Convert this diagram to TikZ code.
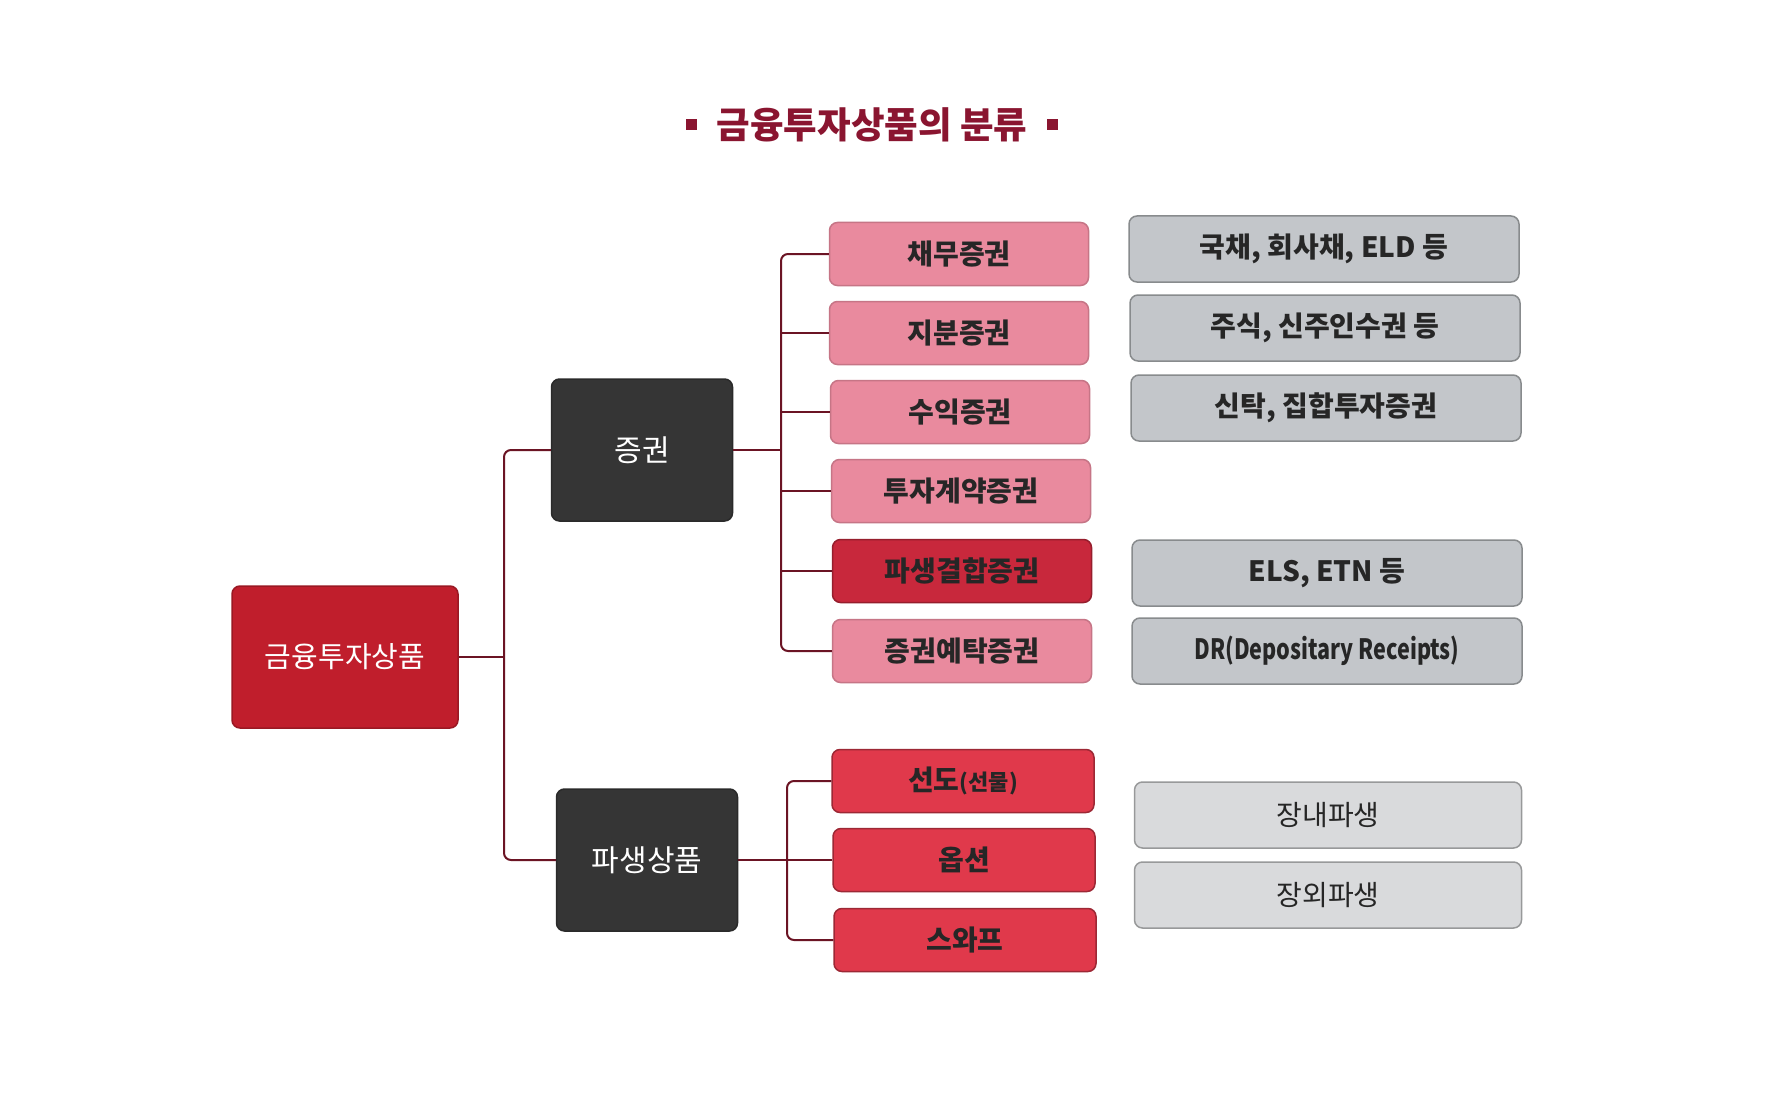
\documentclass[tikz,border=0pt]{standalone}
\usepackage{fontspec}
\setmainfont{Noto Sans CJK KR}
\newfontfamily\narrowfont{Noto Sans CJK KR}[FakeStretch=0.77]
\usetikzlibrary{positioning}

\definecolor{titlered}{HTML}{8A1530}
\definecolor{rootred}{HTML}{C01E2C}
\definecolor{darkbox}{HTML}{353535}
\definecolor{pinkbox}{HTML}{E98A9E}
\definecolor{deepred}{HTML}{C8283C}
\definecolor{optred}{HTML}{E0394B}
\definecolor{greybox}{HTML}{C3C6CA}
\definecolor{lightgrey}{HTML}{D9DADC}
\definecolor{linkred}{HTML}{6B1424}

\begin{document}
\begin{tikzpicture}[x=1pt, y=-1pt,
  box/.style={rectangle, rounded corners=8pt, line width=1.5pt, align=center, inner sep=0pt},
  big/.style={box, minimum width=181pt, minimum height=142pt, fill=darkbox, draw=darkbox!80!black, text=white, font=\fontsize{30}{33}\selectfont},
  sub/.style={box, minimum width=259pt, minimum height=63pt, fill=pinkbox, draw=pinkbox!85!black, text=black!85, font=\fontsize{28}{30}\selectfont\bfseries},
  ex/.style={box, minimum width=390pt, minimum height=66pt, fill=greybox, draw=greybox!70!black, text=black!85, font=\fontsize{28}{30}\selectfont\bfseries},
  link/.style={draw=linkred, line width=2pt, rounded corners=7pt}]
  \useasboundingbox[fill=white] (0,0) rectangle (1775,1102);

  % title
  \node[text=titlered, font=\fontsize{36.5}{40}\selectfont\bfseries] (title) at (872,125) {금융투자상품의 분류};
  \node[fill=titlered, minimum size=11pt, inner sep=0pt, left=16pt of title] (sqL) {};
  \node[fill=titlered, minimum size=11pt, inner sep=0pt, right=16pt of title] (sqR) {};

  % tree
  \node[big, fill=rootred, draw=rootred!80!black, minimum width=226pt, font=\fontsize{29}{33}\selectfont] (root) at (345,657) {금융투자상품};
  \node[big] (sec) at (642,450) {증권};
  \node[big] (der) at (647,860) {파생상품};

  \node[sub] (s1) at (959,254) {채무증권};
  \node[sub] (s2) at (959,333) {지분증권};
  \node[sub] (s3) at (960,412) {수익증권};
  \node[sub] (s4) at (961,491) {투자계약증권};
  \node[sub, fill=deepred, draw=deepred!75!black] (s5) at (962,571) {파생결합증권};
  \node[sub] (s6) at (962,651) {증권예탁증권};

  \node[sub, fill=optred, draw=optred!70!black, minimum width=262pt] (d1) at (963,781) {선도{\fontsize{22}{24}\selectfont(선물)}};
  \node[sub, fill=optred, draw=optred!70!black, minimum width=262pt] (d2) at (964,860) {옵션};
  \node[sub, fill=optred, draw=optred!70!black, minimum width=262pt] (d3) at (965,940) {스와프};

  \node[ex] (e1) at (1324,249) {국채, 회사채, ELD 등};
  \node[ex] (e2) at (1325,328) {주식, 신주인수권 등};
  \node[ex] (e3) at (1326,408) {신탁, 집합투자증권};
  \node[ex] (e5) at (1327,573) {ELS, ETN 등};
  \node[ex, font=\fontsize{28}{30}\selectfont\narrowfont\bfseries] (e6) at (1327,651) {DR(Depositary Receipts)};
  \node[ex, fill=lightgrey, draw=lightgrey!70!black, minimum width=387pt, font=\fontsize{28}{30}\selectfont] (o1) at (1328,815) {장내파생};
  \node[ex, fill=lightgrey, draw=lightgrey!70!black, minimum width=387pt, font=\fontsize{28}{30}\selectfont] (o2) at (1328,895) {장외파생};

  % connectors
  \coordinate (rootbus) at (504,657);
  \coordinate (secbus) at (781,450);
  \coordinate (derbus) at (787,860);
  \draw[link] (root.east) -- (rootbus);
  \draw[link] (sec.west) -| (rootbus) |- (der.west);
  \draw[link] (sec.east) -- (secbus);
  \draw[link] (s1.west) -| (secbus) |- (s6.west);
  \foreach \n in {s2,s3,s4,s5}
    \draw[link] (\n.west) -- (\n.west -| secbus);
  \draw[link] (der.east) -- (derbus);
  \draw[link] (d1.west) -| (derbus) |- (d3.west);
  \draw[link] (d2.west) -- (derbus);
\end{tikzpicture}
\end{document}
